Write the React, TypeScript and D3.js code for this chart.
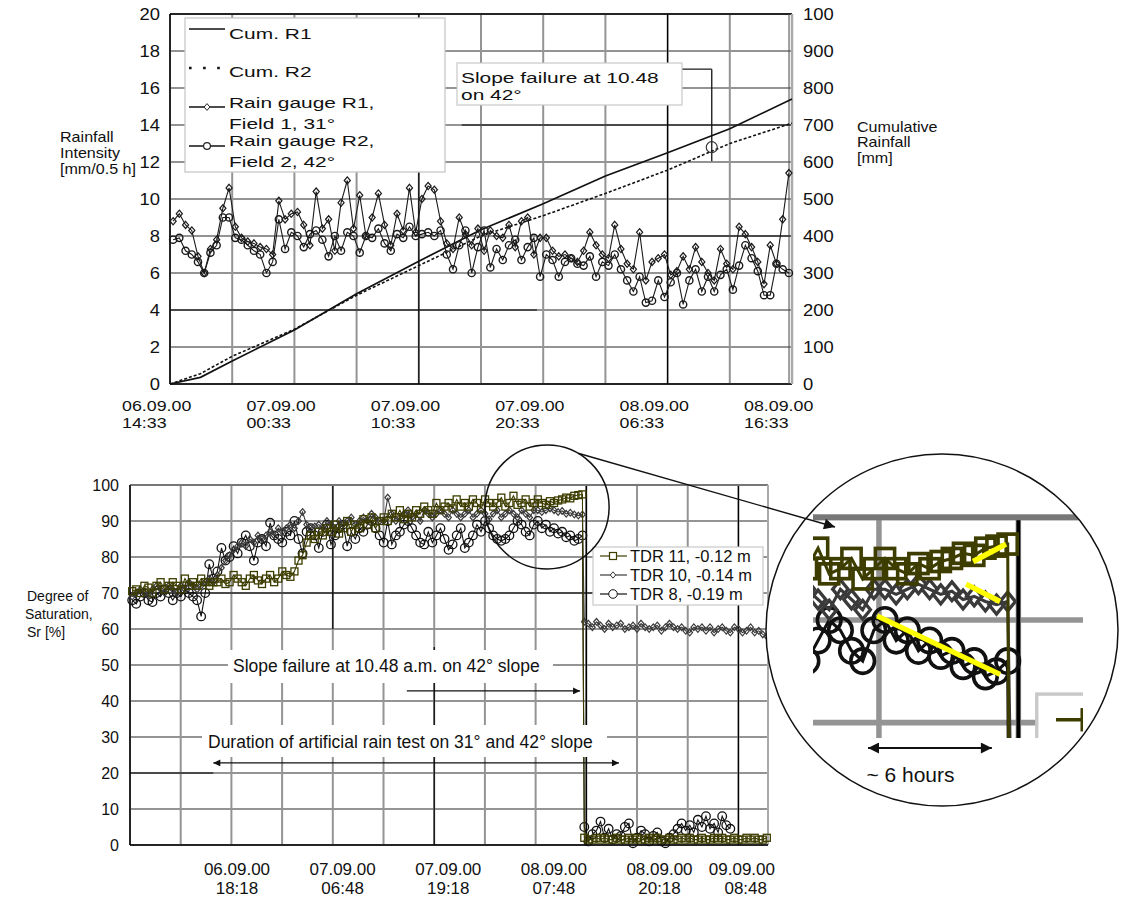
import React from "react";
import * as d3 from "d3";

const FONT = "'Liberation Sans', Arial, Helvetica, sans-serif";

// ---------- top chart: rainfall (hours after 06.09.00 00:00) ----------
const rainStartHour = 14.8;
const rainStepHours = 0.5;
const gaugeR1 = [
  8.8, 9.2, 8.6, 8.3, 6.9, 6.0, 7.3, 7.8, 9.5, 10.6,
  8.5, 7.9, 7.7, 7.6, 7.4, 7.3, 7.0, 9.9, 8.9, 9.2,
  9.3, 8.6, 7.5, 10.4, 8.4, 8.9, 7.2, 9.8, 11.0, 8.4,
  10.2, 8.0, 9.0, 10.3, 8.6, 7.5, 9.2, 8.3, 10.6, 8.2,
  10.0, 10.7, 10.5, 8.8, 7.6, 7.3, 9.0, 8.1, 7.5, 8.4,
  7.2, 8.3, 8.0, 7.9, 8.6, 7.4, 8.8, 9.0, 7.0, 7.9,
  7.9, 7.2, 6.9, 7.0, 6.8, 6.6, 7.2, 8.2, 7.5, 7.0,
  6.8, 8.6, 7.3, 6.5, 6.2, 8.2, 5.6, 6.6, 6.8, 7.0,
  5.9, 6.1, 6.9, 6.2, 7.4, 6.6, 6.0, 5.6, 7.3, 6.5,
  6.2, 8.5, 8.1, 7.4, 6.6, 5.4, 7.5, 6.5, 8.9, 11.4,
];
const gaugeR2 = [
  7.8, 7.9, 7.2, 7.0, 6.6, 6.0, 7.1, 7.5, 9.0, 9.0,
  7.9, 7.8, 7.5, 7.2, 7.0, 6.0, 6.6, 8.9, 7.3, 8.2,
  8.0, 7.4, 8.1, 8.3, 7.8, 6.9, 8.0, 7.2, 8.2, 8.0,
  7.1, 8.0, 7.9, 8.4, 7.6, 7.2, 8.1, 7.9, 8.5, 8.0,
  8.1, 8.2, 8.0, 8.3, 7.0, 6.2, 7.5, 8.3, 6.0, 7.4,
  8.3, 6.3, 7.3, 6.7, 7.5, 7.8, 6.7, 7.4, 7.9, 5.8,
  7.0, 6.7, 5.8, 6.6, 6.8, 6.5, 6.4, 6.9, 5.8, 6.6,
  6.4, 7.0, 6.2, 5.6, 5.0, 5.8, 4.4, 4.5, 5.6, 4.7,
  5.5, 6.0, 4.3, 5.6, 6.2, 5.0, 5.8, 5.0, 5.9, 6.2,
  5.1, 6.4, 7.5, 6.8, 6.1, 4.8, 4.8, 6.5, 6.2, 6.0,
];
const cumHours = [14.55, 17.0, 19.55, 24.55, 29.55, 34.55, 39.55, 44.55, 49.55, 54.55, 59.55, 64.55];
const cumR1 = [0, 18, 62, 146, 244, 332, 417, 487, 562, 625, 690, 770];
const cumR2 = [0, 28, 75, 148, 240, 320, 400, 455, 515, 578, 650, 705];
const topTickHours = [14.55, 24.55, 34.55, 44.55, 54.55, 64.55];
const topTickDates = ["06.09.00", "07.09.00", "07.09.00", "07.09.00", "08.09.00", "08.09.00"];
const topTickTimes = ["14:33", "00:33", "10:33", "20:33", "06:33", "16:33"];
const intensityTicks = [0, 2, 4, 6, 8, 10, 12, 14, 16, 18, 20];
const cumTicks = [0, 100, 200, 300, 400, 500, 600, 700, 800, 900, 1000];
const cumTickLabels = ["0", "100", "200", "300", "400", "500", "600", "700", "800", "900", "100"];
const topFailureHour = 58.1;
const topFailureCum = 640;

// ---------- bottom chart: degree of saturation ----------
const tdrStartHour = 5.9;
const tdrStepHours = 0.48;
const postStartHour = 59.4;
const tdr11Pre = [
  70.5, 71, 70, 72, 71.5, 70, 72, 73, 71, 72, 73, 72, 71, 74, 72, 73, 72, 74, 73, 72, 73,
  73, 74, 72.5, 73, 75, 74, 73, 72, 74, 75, 73.5, 72.5, 74, 75, 73, 74, 76, 75, 74.5, 76,
  79, 80.5, 84, 86,
  85, 87, 86, 88, 87, 89, 86.5, 88, 90, 87, 89, 88, 90.5, 89, 91, 88, 90,
  91, 90, 92, 91, 93, 90.5, 92, 91, 93, 92, 94, 93, 92, 95, 93,
  94, 95, 93.5, 96, 94, 95, 94, 96, 95, 93.5, 96, 95, 94, 95, 96.5, 94, 95, 97, 94.5, 95, 96, 94, 95,
  96, 95, 94.5, 95.5, 95, 95.7, 96, 96.5, 96.3, 97, 97.2, 97.4,
];
const tdr10Pre = [
  69, 70, 71, 70, 69.5, 71, 72, 71, 70, 72, 71, 70, 72, 71, 73, 72, 71, 72, 73, 74, 73,
  75, 77, 79, 80.5, 82, 83, 84, 83, 85, 84, 86, 85, 86, 87, 86, 88, 87, 88, 89, 88,
  90, 92.5, 89, 88,
  88.5, 89, 88, 90, 89, 88, 90, 89, 90, 91, 89, 90, 91, 90, 92, 91, 90,
  90, 96.5, 92, 90, 91, 92, 93, 91, 92, 90, 93, 92, 91, 92, 93,
  92, 91, 93, 92, 91, 92, 93, 91, 92, 93, 92, 90.5, 92, 93, 91, 92, 93, 92, 91, 93, 92, 91, 93,
  93, 92.5, 93, 93.5, 93, 92.5, 92.8, 92, 92.3, 91.8, 91.5, 91.8,
];
const tdr8Pre = [
  68, 67, 69, 70, 68, 67.5, 70, 69, 71, 70, 68, 70, 69, 71, 70, 69, 68, 63.5, 70, 78, 74,
  76, 82.5, 79, 80, 83, 81, 84, 86, 83, 79, 84, 85, 83, 89.5, 86, 85, 84, 87, 86, 90,
  85, 81, 87, 88,
  86, 82.5, 87, 89, 83.5, 86, 88, 89, 83, 87, 85, 88, 87, 89, 90, 88, 86,
  84, 90, 83.5, 86, 87, 89, 90, 88, 86, 84, 83.5, 87, 84, 86, 88,
  85, 82, 83.5, 86, 88, 82.5, 84, 86, 89, 87, 90, 88, 86, 85, 84.5, 85, 86, 88, 90, 89, 87, 86, 89,
  90, 88, 89, 87, 88, 86.5, 87, 85.5, 86, 84.5, 85, 86,
];
const tdr11Post = [
  2, 1.5, 1.5, 2, 1.5, 2, 1.5, 1.5, 2, 1.5, 1.5, 2, 1.5, 2, 1.5, 1.5, 2, 1.5, 2, 1.5, 1.5, 2, 1.5,
  1.5, 2, 1.5, 2, 1.5, 1.5, 2, 1.5, 1.5, 2, 1.5, 2, 1.5, 1.5, 2, 1.5, 1.5, 2, 1.5, 2, 1.5, 1.5, 2,
];
const tdr10Post = [
  62, 61.5, 60.5, 62, 61, 60, 61.5, 60.5, 61, 61.5, 60, 60.5, 61, 60, 61.5, 60.5, 60, 60.5, 61, 59.5, 60.5, 61.5, 60.5,
  60, 60.5, 59.5, 59, 60.5, 60, 60.5, 59.5, 60.5, 59, 60, 60.5, 59.5, 59, 60.5, 60, 59, 59.5, 60.5, 59, 59.5, 58.5, 58,
];
const tdr8Post = [
  5, 1, 3, 4, 6.5, 2, 4.5, 1.5, 3, 2.5, 5, 6, 0.5, 2, 4, 3, 1, 2.5, 3.5, 1, 0.5, 2, 3, 4.5, 6,
  4, 5.5, 3.5, 7, 5, 8, 4.5, 6, 3.5, 8, 5.5, 4.5,
];
const satTicks = [0, 10, 20, 30, 40, 50, 60, 70, 80, 90, 100];
const bottomTickHours = [18.3, 30.8, 43.3, 55.8, 68.3, 80.8];
const bottomTickDates = ["06.09.00", "07.09.00", "07.09.00", "08.09.00", "08.09.00", "09.09.00"];
const bottomTickTimes = ["18:18", "06:48", "19:18", "07:48", "20:18", "08:48"];
const tdrLegend = ["TDR 11, -0.12 m", "TDR 10, -0.14 m", "TDR 8, -0.19 m"];

const W = 1124;
const H = 901;
const T = { left: 170, right: 792, top: 14, bottom: 384 };
const B = { left: 130, right: 768, top: 485, bottom: 845 };

const xT = d3.scaleLinear().domain([14.55, 64.55]).range([T.left, T.right]);
const yT = d3.scaleLinear().domain([0, 20]).range([T.bottom, T.top]);
const yTR = d3.scaleLinear().domain([0, 1000]).range([T.bottom, T.top]);
const xB = d3.scaleLinear().domain([5.64, 81.14]).range([B.left, B.right]);
const yB = d3.scaleLinear().domain([0, 100]).range([B.bottom, B.top]);

const OLIVE = "#3d3d00";
const GRID = "#949494";

const diamond = (s: number) => `M0,${-s}L${s * 0.85},0L0,${s}L${-s * 0.85},0Z`;

function Txt({ x, y, size, sx = 1, anchor = "start", fill = "#111", children }: any) {
  return (
    <text
      transform={`translate(${x},${y}) scale(${sx},1)`}
      fontSize={size}
      textAnchor={anchor}
      fill={fill}
      fontFamily={FONT}
    >
      {children}
    </text>
  );
}

const line = d3.line<[number, number]>();

// the body of the saturation plot (also reused, magnified, in the round inset)
function SaturationPlot({ inset = false }: { inset?: boolean }) {
  const preH = tdr11Pre.map((_, i) => tdrStartHour + i * tdrStepHours);
  const post = (n: number) => d3.range(n).map((j) => postStartHour + j * tdrStepHours);
  const series = [
    { pre: tdr8Pre, post: tdr8Post, color: "#111", kind: "circle" },
    { pre: tdr10Pre, post: tdr10Post, color: "#3a3a3a", kind: "diamond" },
    { pre: tdr11Pre, post: tdr11Post, color: OLIVE, kind: "square" },
  ];
  const vGrid = d3.range(0, 13).map((k) => 5.64 + 6 * k);
  return (
    <g>
      <rect x={B.left} y={B.top} width={B.right - B.left} height={B.bottom - B.top} fill="#fff" />
      {satTicks.map((v) => (
        <line key={"h" + v} x1={B.left} x2={B.right} y1={yB(v)} y2={yB(v)} stroke={GRID} strokeWidth={2} />
      ))}
      {vGrid.map((h) => (
        <line key={"v" + h} x1={xB(h)} x2={xB(h)} y1={B.top} y2={B.bottom} stroke={GRID} strokeWidth={2} />
      ))}
      {/* darker grid segments of the original print */}
      <line x1={B.left} x2={xB(60.4)} y1={yB(70)} y2={yB(70)} stroke="#000" strokeWidth={1.2} />
      <line x1={B.left} x2={xB(15.5)} y1={yB(20)} y2={yB(20)} stroke="#000" strokeWidth={1.2} />
      <line x1={xB(vGrid[4])} x2={xB(vGrid[4])} y1={yB(100)} y2={yB(60)} stroke="#000" strokeWidth={1.2} />
      <line x1={xB(vGrid[6])} x2={xB(vGrid[6])} y1={yB(55)} y2={B.bottom} stroke="#000" strokeWidth={1.2} />
      <line x1={xB(vGrid[9])} x2={xB(vGrid[9])} y1={B.top} y2={B.bottom} stroke="#000" strokeWidth={1.4} />
      <line x1={xB(vGrid[12])} x2={xB(vGrid[12])} y1={B.top} y2={B.bottom} stroke="#000" strokeWidth={1.2} />
      <line x1={B.left} x2={B.right} y1={B.top} y2={B.top} stroke="#777" strokeWidth={2} />
      <line x1={B.right} x2={B.right} y1={B.top} y2={B.bottom} stroke="#aaa" strokeWidth={2} />
      <line x1={B.left} x2={B.left} y1={B.top} y2={B.bottom} stroke="#000" strokeWidth={1.5} />
      <line x1={B.left} x2={B.right} y1={B.bottom} y2={B.bottom} stroke="#000" strokeWidth={1.5} />

      {series.map((s, si) => {
        const postH = post(s.post.length);
        const pts: [number, number][] = [
          ...s.pre.map((v, i) => [xB(preH[i]), yB(v)] as [number, number]),
          ...s.post.map((v, j) => [xB(postH[j]), yB(v)] as [number, number]),
        ];
        return (
          <g key={si}>
            <path d={line(pts) || ""} fill="none" stroke={s.color} strokeWidth={1.1} />
            {pts.map(([x, y], k) =>
              s.kind === "circle" ? (
                <circle key={k} cx={x} cy={y} r={4.3} fill="none" stroke={s.color} strokeWidth={1.3} />
              ) : s.kind === "diamond" ? (
                <path key={k} d={diamond(3.3)} transform={`translate(${x},${y})`} fill="none" stroke={s.color} strokeWidth={1.2} />
              ) : (
                <rect key={k} x={x - 3.5} y={y - 3.5} width={7} height={7} fill="none" stroke={s.color} strokeWidth={1.3} />
              )
            )}
          </g>
        );
      })}

      {/* legend */}
      <rect x={593} y={547} width={170} height={58} fill="#fff" stroke="#c8c8c8" strokeWidth={1.2} />
      {tdrLegend.map((name, i) => {
        const cy = 556 + i * 19;
        const c = series[2 - i];
        return (
          <g key={name}>
            <line x1={600} x2={627} y1={cy} y2={cy} stroke={c.color} strokeWidth={1.2} />
            {c.kind === "square" ? (
              <rect x={609.5} y={cy - 3.5} width={7} height={7} fill="#fff" stroke={c.color} strokeWidth={1.2} />
            ) : c.kind === "diamond" ? (
              <path d={diamond(3.2)} transform={`translate(613,${cy})`} fill="#fff" stroke={c.color} strokeWidth={1} />
            ) : (
              <circle cx={613} cy={cy} r={4.3} fill="#fff" stroke={c.color} strokeWidth={1} />
            )}
            {!inset && <Txt x={630} y={cy + 6} size={16.5}>{name}</Txt>}
          </g>
        );
      })}
    </g>
  );
}

export default function App() {
  const rainPts = (vals: number[]) =>
    vals.map((v, i) => [xT(rainStartHour + i * rainStepHours), yT(v)] as [number, number]);
  const r1 = rainPts(gaugeR1);
  const r2 = rainPts(gaugeR2);
  const c1 = cumHours.map((h, i) => [xT(h), yTR(cumR1[i])] as [number, number]);
  const c2 = cumHours.map((h, i) => [xT(h), yTR(cumR2[i])] as [number, number]);
  const topGridHours = d3.range(0, 11).map((k) => 14.55 + 5 * k);

  // inset magnification of the saturation plot
  const SX = 2.75;
  const SY = 2.85;
  const TX = -594;
  const TY = -864.85;
  const ix = (h: number) => xB(h) * SX + TX;
  const small = { cx: xB(55.0), cy: yB(93.9), r: 62 };
  const big = { cx: 942, cy: 630, r: 176 };
  const trend = [
    [57.69, 95.7, 59.11, 97.4],
    [57.39, 93.5, 58.85, 91.8],
    [53.56, 90.4, 58.85, 84.7],
  ];
  const ang = (-60 * Math.PI) / 180;
  const conStart = [small.cx + small.r * Math.cos(ang), small.cy + small.r * Math.sin(ang)];

  const topSX = 1.15;
  const legSX = 1.35;

  return (
    <div style={{ position: "absolute", left: 0, top: 0 }}>
      <svg width={W} height={H} style={{ display: "block", background: "#fff" }}>
        <defs>
          <marker id="arr" viewBox="0 0 10 10" refX="10" refY="5" markerUnits="userSpaceOnUse"
            markerWidth="9" markerHeight="7" orient="auto-start-reverse">
            <path d="M0,0L10,5L0,10z" fill="#111" />
          </marker>
          <marker id="arrBig" viewBox="0 0 10 10" refX="10" refY="5" markerUnits="userSpaceOnUse"
            markerWidth="14" markerHeight="11" orient="auto-start-reverse">
            <path d="M0,0L10,5L0,10z" fill="#111" />
          </marker>
          <clipPath id="insetClip" clipPathUnits="userSpaceOnUse">
            <rect x={813} y={514} width={270} height={224} />
          </clipPath>
          <clipPath id="bigClip" clipPathUnits="userSpaceOnUse">
            <circle cx={big.cx} cy={big.cy} r={big.r} />
          </clipPath>
        </defs>

        {/* ================= TOP CHART ================= */}
        {intensityTicks.map((v) => (
          <line key={"th" + v} x1={T.left} x2={T.right} y1={yT(v)} y2={yT(v)} stroke={GRID} strokeWidth={2} />
        ))}
        {topGridHours.map((h) => (
          <line key={"tv" + h} x1={xT(h)} x2={xT(h)} y1={T.top} y2={T.bottom} stroke={GRID} strokeWidth={2} />
        ))}
        <line x1={T.left} x2={xT(44.05)} y1={yT(4)} y2={yT(4)} stroke="#000" strokeWidth={1.2} />
        <line x1={xT(38.0)} x2={T.right} y1={yT(14)} y2={yT(14)} stroke="#000" strokeWidth={1.2} />
        <line x1={xT(52.3)} x2={T.right} y1={yT(8)} y2={yT(8)} stroke="#000" strokeWidth={1.2} />
        <line x1={xT(34.55)} x2={xT(34.55)} y1={T.top} y2={T.bottom} stroke="#000" strokeWidth={1.2} />
        <line x1={xT(54.55)} x2={xT(54.55)} y1={T.top} y2={T.bottom} stroke="#000" strokeWidth={1.2} />
        <line x1={T.left} x2={T.right} y1={T.top} y2={T.top} stroke="#000" strokeWidth={1.5} />
        <line x1={T.left} x2={T.left} y1={T.top} y2={T.bottom} stroke="#000" strokeWidth={1.5} />
        <line x1={T.left} x2={T.right} y1={T.bottom} y2={T.bottom} stroke="#000" strokeWidth={1.5} />
        <line x1={T.right - 3} x2={T.right - 3} y1={T.top} y2={T.bottom} stroke="#444" strokeWidth={1} />
        <line x1={T.right} x2={T.right} y1={T.top} y2={T.bottom} stroke="#aaa" strokeWidth={2.5} />

        {/* cumulative rainfall */}
        <path d={line(c1) || ""} fill="none" stroke="#111" strokeWidth={1.7} />
        <path d={line(c2) || ""} fill="none" stroke="#111" strokeWidth={1.6} strokeDasharray="3,2" />

        {/* rain gauges */}
        <path d={line(r2) || ""} fill="none" stroke="#1a1a1a" strokeWidth={1.1} />
        {r2.map(([x, y], i) => (
          <circle key={"c" + i} cx={x} cy={y} r={3.6} fill="none" stroke="#1a1a1a" strokeWidth={1.4} />
        ))}
        <path d={line(r1) || ""} fill="none" stroke="#1a1a1a" strokeWidth={1.1} />
        {r1.map(([x, y], i) => (
          <path key={"d" + i} d={diamond(3.6)} transform={`translate(${x},${y})`} fill="none" stroke="#1a1a1a" strokeWidth={1.2} />
        ))}

        {/* legend */}
        <rect x={185} y={18} width={260} height={154} fill="#fff" stroke="#c8c8c8" strokeWidth={1.3} />
        <line x1={189} x2={225} y1={29} y2={29} stroke="#111" strokeWidth={1.6} />
        <Txt x={229} y={39} size={15.5} sx={legSX}>Cum. R1</Txt>
        <line x1={189} x2={225} y1={68} y2={68} stroke="#111" strokeWidth={2.6} strokeDasharray="2.6,11.5" />
        <Txt x={229} y={77} size={15.5} sx={legSX}>Cum. R2</Txt>
        <line x1={189} x2={225} y1={107} y2={107} stroke="#111" strokeWidth={1.4} />
        <path d={diamond(3.4)} transform="translate(207,107)" fill="#fff" stroke="#222" strokeWidth={1} />
        <Txt x={229} y={108} size={15.5} sx={legSX}>Rain gauge R1,</Txt>
        <Txt x={229} y={129} size={15.5} sx={legSX}>Field 1, 31°</Txt>
        <line x1={189} x2={225} y1={146} y2={146} stroke="#111" strokeWidth={1.4} />
        <circle cx={207} cy={146} r={3.4} fill="#fff" stroke="#222" strokeWidth={1.2} />
        <Txt x={229} y={146} size={15.5} sx={legSX}>Rain gauge R2,</Txt>
        <Txt x={229} y={167} size={15.5} sx={legSX}>Field 2, 42°</Txt>

        {/* failure annotation */}
        <line x1={682} x2={xT(topFailureHour)} y1={yTR(851)} y2={yTR(851)} stroke="#111" strokeWidth={1.2} />
        <line x1={xT(topFailureHour)} x2={xT(topFailureHour)} y1={yTR(851)} y2={yTR(602)} stroke="#111" strokeWidth={1.3} />
        <circle cx={xT(topFailureHour)} cy={yTR(topFailureCum)} r={5.5} fill="none" stroke="#333" strokeWidth={1.2} />
        <rect x={457} y={63} width={225} height={42} fill="#fff" stroke="#c8c8c8" strokeWidth={1.2} />
        <Txt x={461} y={83} size={15.5} sx={legSX}>Slope failure at 10.48</Txt>
        <Txt x={461} y={100} size={15.5} sx={legSX}> on 42°</Txt>

        {/* axes text */}
        {intensityTicks.map((v) => (
          <Txt key={"tl" + v} x={160} y={yT(v) + 6} size={16} sx={topSX} anchor="end">{v}</Txt>
        ))}
        {cumTicks.map((v, i) => (
          <Txt key={"tr" + v} x={803} y={yTR(v) + 6} size={16} sx={topSX}>{cumTickLabels[i]}</Txt>
        ))}
        {topTickHours.map((h, i) => (
          <g key={"tx" + i}>
            <Txt x={xT(h) - 48} y={411} size={15.5} sx={topSX}>{topTickDates[i]}</Txt>
            <Txt x={xT(h) - 48} y={428} size={15.5} sx={topSX}>{topTickTimes[i]}</Txt>
          </g>
        ))}
        <Txt x={60} y={142} size={14} sx={1.15}>Rainfall</Txt>
        <Txt x={60} y={158} size={14} sx={1.15}>Intensity</Txt>
        <Txt x={60} y={174} size={14} sx={1.15}>[mm/0.5 h]</Txt>
        <Txt x={857} y={132} size={14} sx={1.15}>Cumulative</Txt>
        <Txt x={857} y={147} size={14} sx={1.15}>Rainfall</Txt>
        <Txt x={857} y={163} size={14} sx={1.15}>[mm]</Txt>

        {/* ================= BOTTOM CHART ================= */}
        <SaturationPlot />

        {/* annotations */}
        <rect x={228} y={650} width={325} height={33} fill="#fff" />
        <Txt x={233} y={672} size={17.5}>Slope failure at 10.48 a.m. on 42° slope</Txt>
        <line x1={xB(38.4)} x2={xB(58.9)} y1={yB(42.8)} y2={yB(42.8)} stroke="#111" strokeWidth={1.2} markerEnd="url(#arr)" />
        <rect x={202} y={725} width={405} height={32} fill="#fff" />
        <Txt x={208} y={748} size={17.5}>Duration of artificial rain test on 31° and 42° slope</Txt>
        <line x1={xB(15.5)} x2={xB(63.5)} y1={yB(22.8)} y2={yB(22.8)} stroke="#111" strokeWidth={1.2}
          markerStart="url(#arr)" markerEnd="url(#arr)" />

        {satTicks.map((v) => (
          <Txt key={"bl" + v} x={119} y={yB(v) + 6} size={16} anchor="end">{v}</Txt>
        ))}
        {bottomTickHours.map((h, i) => {
          const last = i === bottomTickHours.length - 1;
          const x = last ? B.right + 7 : xB(h);
          const a = last ? "end" : "middle";
          return (
            <g key={"bx" + i}>
              <Txt x={x} y={875} size={17} anchor={a}>{bottomTickDates[i]}</Txt>
              <Txt x={last ? x - 8 : x} y={894} size={17} anchor={a}>{bottomTickTimes[i]}</Txt>
            </g>
          );
        })}
        <Txt x={27} y={601} size={14}>Degree of</Txt>
        <Txt x={25} y={619} size={14}>Saturation,</Txt>
        <Txt x={27} y={637} size={14}>Sr [%]</Txt>

        {/* magnifier */}
        <circle cx={small.cx} cy={small.cy} r={small.r} fill="none" stroke="#111" strokeWidth={1.5} />
        <circle cx={big.cx} cy={big.cy} r={big.r} fill="#fff" stroke="none" />
        <g clipPath="url(#bigClip)">
          <g clipPath="url(#insetClip)">
            <g transform={`translate(${TX},${TY}) scale(${SX},${SY})`}>
              <SaturationPlot inset />
              {trend.map(([h1, v1, h2, v2], i) => (
                <line key={i} x1={xB(h1)} y1={yB(v1)} x2={xB(h2)} y2={yB(v2)} stroke="#ffff00" strokeWidth={1.9} />
              ))}
            </g>
          </g>
          <line x1={ix(53.17)} x2={ix(58.5)} y1={748} y2={748} stroke="#111" strokeWidth={2}
            markerStart="url(#arrBig)" markerEnd="url(#arrBig)" />
          <Txt x={ix(53.1)} y={782} size={21}>~ 6 hours</Txt>
        </g>
        <circle cx={big.cx} cy={big.cy} r={big.r} fill="none" stroke="#111" strokeWidth={1.5} />
        <line x1={conStart[0]} y1={conStart[1]} x2={835} y2={527} stroke="#111" strokeWidth={1.4} markerEnd="url(#arrBig)" />
      </svg>
    </div>
  );
}
